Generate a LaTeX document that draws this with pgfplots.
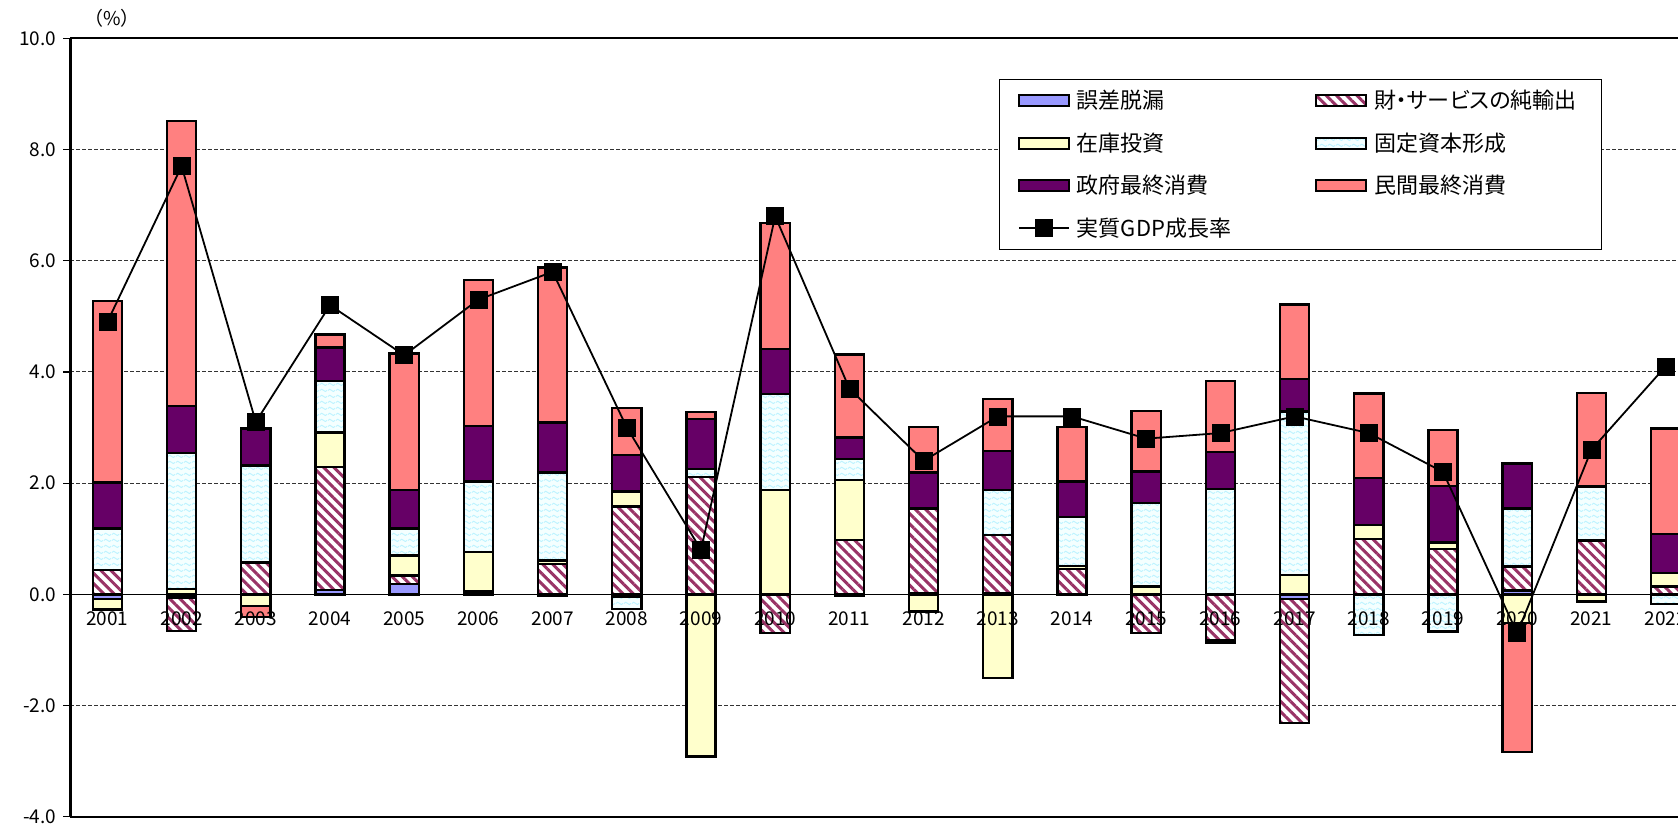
\documentclass[border=0pt]{standalone}
\usepackage{fontspec}
\setmainfont{Noto Sans CJK JP}[RawFeature=+palt]
\usepackage{pgfplots}
\pgfplotsset{compat=1.18}
\usepackage{pgfplotstable}
\usetikzlibrary{patterns.meta,calc}

\definecolor{cErr}{HTML}{9999FF}
\definecolor{cInv}{HTML}{FFFFCC}
\definecolor{cGov}{HTML}{660066}
\definecolor{cPc}{HTML}{FF8080}
\definecolor{cHatch}{HTML}{993366}
\definecolor{cGfcf}{HTML}{F4FFFF}
\definecolor{cWave}{HTML}{BDF3FF}

\tikzdeclarepattern{
  name=cywave,
  type=uncolored,
  bounding box={(0pt,0pt) and (4pt,2.8pt)},
  tile size={(4pt,2.8pt)},
  code={
    \draw[line width=0.5pt] (0pt,1.4pt) sin (1pt,2pt) cos (2pt,1.4pt) sin (3pt,0.8pt) cos (4pt,1.4pt);
  }
}

% bars under ticks, axis lines and tick labels
\pgfplotsset{
  layers/barsunder/.define layer set={
    axis background,axis grid,main,axis ticks,axis lines,axis tick labels,axis descriptions,axis foreground
  }{
    grid style={/pgfplots/on layer=axis grid},
    tick style={/pgfplots/on layer=axis ticks},
    axis line style={/pgfplots/on layer=axis lines},
    label style={/pgfplots/on layer=axis descriptions},
    legend style={/pgfplots/on layer=axis descriptions},
    title style={/pgfplots/on layer=axis descriptions},
    ticklabel style={/pgfplots/on layer=axis tick labels},
  },
  base/.style={
    set layers=barsunder,
    scale only axis, width=803.85pt, height=389.2pt,
    xmin=-0.5, xmax=21.167, ymin=-4, ymax=10,
  },
  sErr/.style={fill=cErr, draw=black, line width=1.2pt},
  sNx/.style={fill=white, draw=black, line width=1.2pt,
    postaction={pattern={Lines[angle=-45,distance=3.6pt,line width=1.5pt]}, pattern color=cHatch}},
  sInv/.style={fill=cInv, draw=black, line width=1.2pt},
  sGfcf/.style={fill=cGfcf, draw=black, line width=1.2pt,
    postaction={pattern=cywave, pattern color=cWave}},
  sGov/.style={fill=cGov, draw=black, line width=1.2pt},
  sPc/.style={fill=cPc, draw=black, line width=1.2pt},
  barleg/.style={legend image code/.code={\draw[##1] (0pt,-2.75pt) rectangle (25pt,2.75pt);}},
  lineleg/.style={legend image code/.code={\draw[mark repeat=2,mark phase=2,##1] plot coordinates {(0pt,0pt) (12.5pt,0pt) (25pt,0pt)};}},
}

% contributions to growth (percentage points) and real GDP growth (%)
\pgfplotstableread{
i year err nx inv gfcf gov pc gdp
0 2001 -0.08 0.44 -0.19 0.74 0.83 3.27 4.9
1 2002 -0.06 -0.60 0.10 2.44 0.85 5.12 7.7
2 2003 0.00 0.57 -0.21 1.75 0.66 -0.20 3.1
3 2004 0.08 2.21 0.62 0.93 0.60 0.23 5.2
4 2005 0.19 0.15 0.36 0.48 0.70 2.45 4.3
5 2006 0.00 0.05 0.71 1.27 1.00 2.62 5.3
6 2007 -0.03 0.55 0.06 1.58 0.90 2.79 5.8
7 2008 -0.05 1.58 0.27 -0.21 0.66 0.84 3.0
8 2009 0.00 2.11 -2.92 0.14 0.90 0.13 0.8
9 2010 0.00 -0.70 1.88 1.72 0.81 2.27 6.8
10 2011 -0.03 0.98 1.08 0.37 0.39 1.49 3.7
11 2012 0.02 1.52 -0.30 -0.02 0.65 0.82 2.4
12 2013 0.02 1.05 -1.50 0.81 0.70 0.93 3.2
13 2014 0.00 0.46 0.05 0.88 0.64 0.98 3.2
14 2015 0.00 -0.70 0.14 1.50 0.57 1.09 2.8
15 2016 0.00 -0.83 -0.05 1.89 0.67 1.28 2.9
16 2017 -0.08 -2.23 0.35 2.94 0.58 1.34 3.2
17 2018 0.00 1.00 0.25 -0.73 0.84 1.52 2.9
18 2019 0.00 0.82 0.11 -0.67 1.02 1.00 2.2
19 2020 0.07 0.43 -0.52 1.04 0.81 -2.32 -0.7
20 2021 0.00 0.97 -0.13 0.97 0.00 1.68 2.6
21 2022 0.00 0.14 0.24 -0.17 0.71 1.89 4.1
}\data

\begin{document}
\begin{tikzpicture}
% frame, grid, ticks and the positive parts of the stacks
\begin{axis}[
  base, ybar stacked, bar width=14.65pt,
  axis x line=middle, axis y line=left,
  axis line style={-},
  every inner x axis line/.append style={-},
  every outer y axis line/.append style={-},
  x axis line style={line width=0.6pt},
  y axis line style={line width=1.2pt},
  xtick=\empty,
  extra x ticks={0,...,21},
  extra x tick labels={2001,2002,2003,2004,2005,2006,2007,2008,2009,2010,2011,2012,2013,2014,2015,2016,2017,2018,2019,2020,2021,2022},
  extra x tick style={major tick length=0pt, tick style={draw=none}},
  xticklabel style={yshift=-5pt},
  minor xtick={-0.5,0.5,...,21.5},
  ytick={-4,-2,...,10},
  ymajorgrids,
  major grid style={dash pattern=on 2pt off 1pt, line width=0.5pt, black!80},
  extra y ticks={-4,10}, extra y tick labels={},
  extra y tick style={grid=major, major grid style={solid, line width=1.2pt, black}},
  tick align=outside, major tick length=3.5pt, minor tick length=6pt,
  tick style={black, line width=0.6pt},
  minor tick style={yshift=3pt},
  tick label style={font=\fontsize{9.5pt}{11pt}\selectfont},
  /pgf/number format/assume math mode=true,
  yticklabel style={/pgf/number format/.cd, fixed, fixed zerofill, precision=1},
  ylabel={（\%）},
  every axis y label/.style={at={(rel axis cs:0,1)}, anchor=center,
    xshift=20.85pt, yshift=10.15pt, font=\fontsize{9.5pt}{11pt}\selectfont},
]
\addplot[sErr] table[x=i, y expr={max(\thisrow{err},0)}]{\data};
\addplot[sNx] table[x=i, y expr={max(\thisrow{nx},0)}]{\data};
\addplot[sInv] table[x=i, y expr={max(\thisrow{inv},0)}]{\data};
\addplot[sGfcf] table[x=i, y expr={max(\thisrow{gfcf},0)}]{\data};
\addplot[sGov] table[x=i, y expr={max(\thisrow{gov},0)}]{\data};
\addplot[sPc] table[x=i, y expr={max(\thisrow{pc},0)}]{\data};
\end{axis}

% negative parts, stacked downwards from zero
\begin{axis}[base, ybar stacked, bar width=14.65pt, hide axis]
\addplot[sErr] table[x=i, y expr={min(\thisrow{err},0)}]{\data};
\addplot[sNx] table[x=i, y expr={min(\thisrow{nx},0)}]{\data};
\addplot[sInv] table[x=i, y expr={min(\thisrow{inv},0)}]{\data};
\addplot[sGfcf] table[x=i, y expr={min(\thisrow{gfcf},0)}]{\data};
\addplot[sGov] table[x=i, y expr={min(\thisrow{gov},0)}]{\data};
\addplot[sPc] table[x=i, y expr={min(\thisrow{pc},0)}]{\data};
\end{axis}

% growth rate line and legend
\begin{axis}[base, hide axis,
  legend columns=2, legend cell align=left,
  legend style={at={(0.5777,0.9477)}, anchor=north west,
    draw=black, line width=0.5pt, inner xsep=9pt, inner ysep=0pt,
    /tikz/column sep=0pt, row sep=0pt,
    font=\fontsize{11pt}{13pt}\selectfont,
    nodes={inner xsep=3.5pt, inner ysep=0pt, minimum height=21.25pt, anchor=west}},
]
\addlegendimage{sErr, barleg}\addlegendentry{\makebox[115.5pt][l]{誤差脱漏}}
\addlegendimage{sNx, barleg}\addlegendentry{財・サービスの純輸出}
\addlegendimage{sInv, barleg}\addlegendentry{\makebox[115.5pt][l]{在庫投資}}
\addlegendimage{sGfcf, barleg}\addlegendentry{固定資本形成}
\addlegendimage{sGov, barleg}\addlegendentry{\makebox[115.5pt][l]{政府最終消費}}
\addlegendimage{sPc, barleg}\addlegendentry{民間最終消費}
\addplot[black, line width=0.9pt, mark=square*, mark size=4.25pt,
  mark options={solid, fill=black, line width=0.3pt}, lineleg]
  table[x=i, y=gdp]{\data};
\addlegendentry{\makebox[115.5pt][l]{実質GDP成長率}}
\coordinate (bbsw) at (rel axis cs:0,0);
\coordinate (bbne) at (rel axis cs:1,1);
\end{axis}
\pgfresetboundingbox
\path[use as bounding box] ($(bbsw)+(-35.15pt,-4.65pt)$) rectangle ($(bbne)+(0pt,19.15pt)$);
\end{tikzpicture}
\end{document}
